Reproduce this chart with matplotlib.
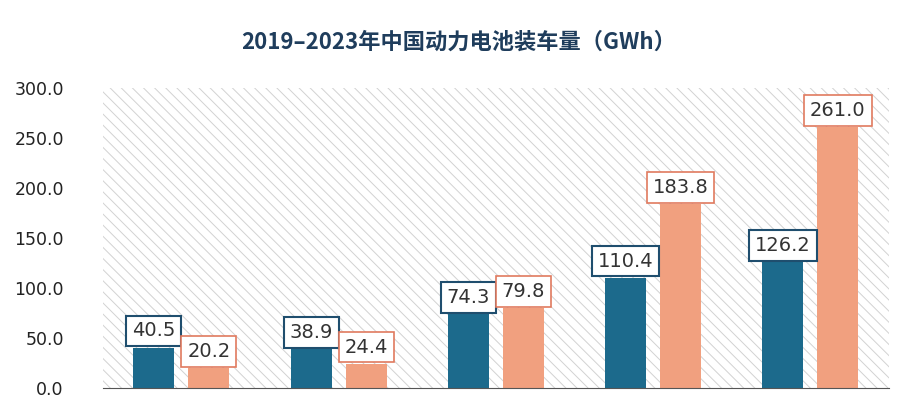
import matplotlib
matplotlib.use("Agg")
import matplotlib.pyplot as plt
import numpy as np

plt.rcParams['font.family'] = ['DejaVu Sans', 'Noto Sans CJK SC']
plt.rcParams['hatch.linewidth'] = 0.7

years = ['2019', '2020', '2021', '2022', '2023']
series_a = [40.5, 38.9, 74.3, 110.4, 126.2]
series_b = [20.2, 24.4, 79.8, 183.8, 261.0]
yticks = [0, 50, 100, 150, 200, 250, 300]

blue = '#1c6a8c'
orange = '#f1a07f'

fig = plt.figure(figsize=(9.09, 4.0), dpi=100)
ax = fig.add_axes([0.113, 0.03, 0.865, 0.75])
x = np.arange(len(years))
w = 0.26
off = 0.175
ax.set_xlim(-0.5, len(years) - 0.5)
ax.set_ylim(0, 300)
ax.add_patch(plt.Rectangle((0, 0), 1, 1, transform=ax.transAxes, facecolor='white',
                           edgecolor='#d2d2d2', linewidth=0, hatch='\\\\\\', zorder=0))
ax.bar(x - off, series_a, w, color=blue, zorder=2)
ax.bar(x + off, series_b, w, color=orange, zorder=2)
for xi, a, b in zip(x, series_a, series_b):
    ax.text(xi - off, a + 7, f'{a:.1f}', ha='center', va='bottom', fontsize=14,
            color='#333333', zorder=3,
            bbox=dict(boxstyle='square,pad=0.3', fc='white', ec='#1f4e6e', lw=1.5))
    ax.text(xi + off, b + 7, f'{b:.1f}', ha='center', va='bottom', fontsize=14,
            color='#333333', zorder=3,
            bbox=dict(boxstyle='square,pad=0.3', fc='white', ec='#e07a5f', lw=1.2))
ax.set_yticks(yticks)
ax.set_yticklabels([f'{v:.1f}' for v in yticks], fontsize=12.5, color='#222222')
ax.set_xticks([])
for s in ['top', 'right', 'left']:
    ax.spines[s].set_visible(False)
ax.spines['bottom'].set_color('#555555')
ax.tick_params(axis='y', length=0, pad=28)
fig.text(0.505, 0.895, '2019–2023年中国动力电池装车量（GWh）', ha='center', va='center',
         fontsize=16, fontweight='bold', color='#1f3d5c',
         family=['Noto Sans CJK SC', 'DejaVu Sans'])
fig.savefig('out.png', dpi=100)
